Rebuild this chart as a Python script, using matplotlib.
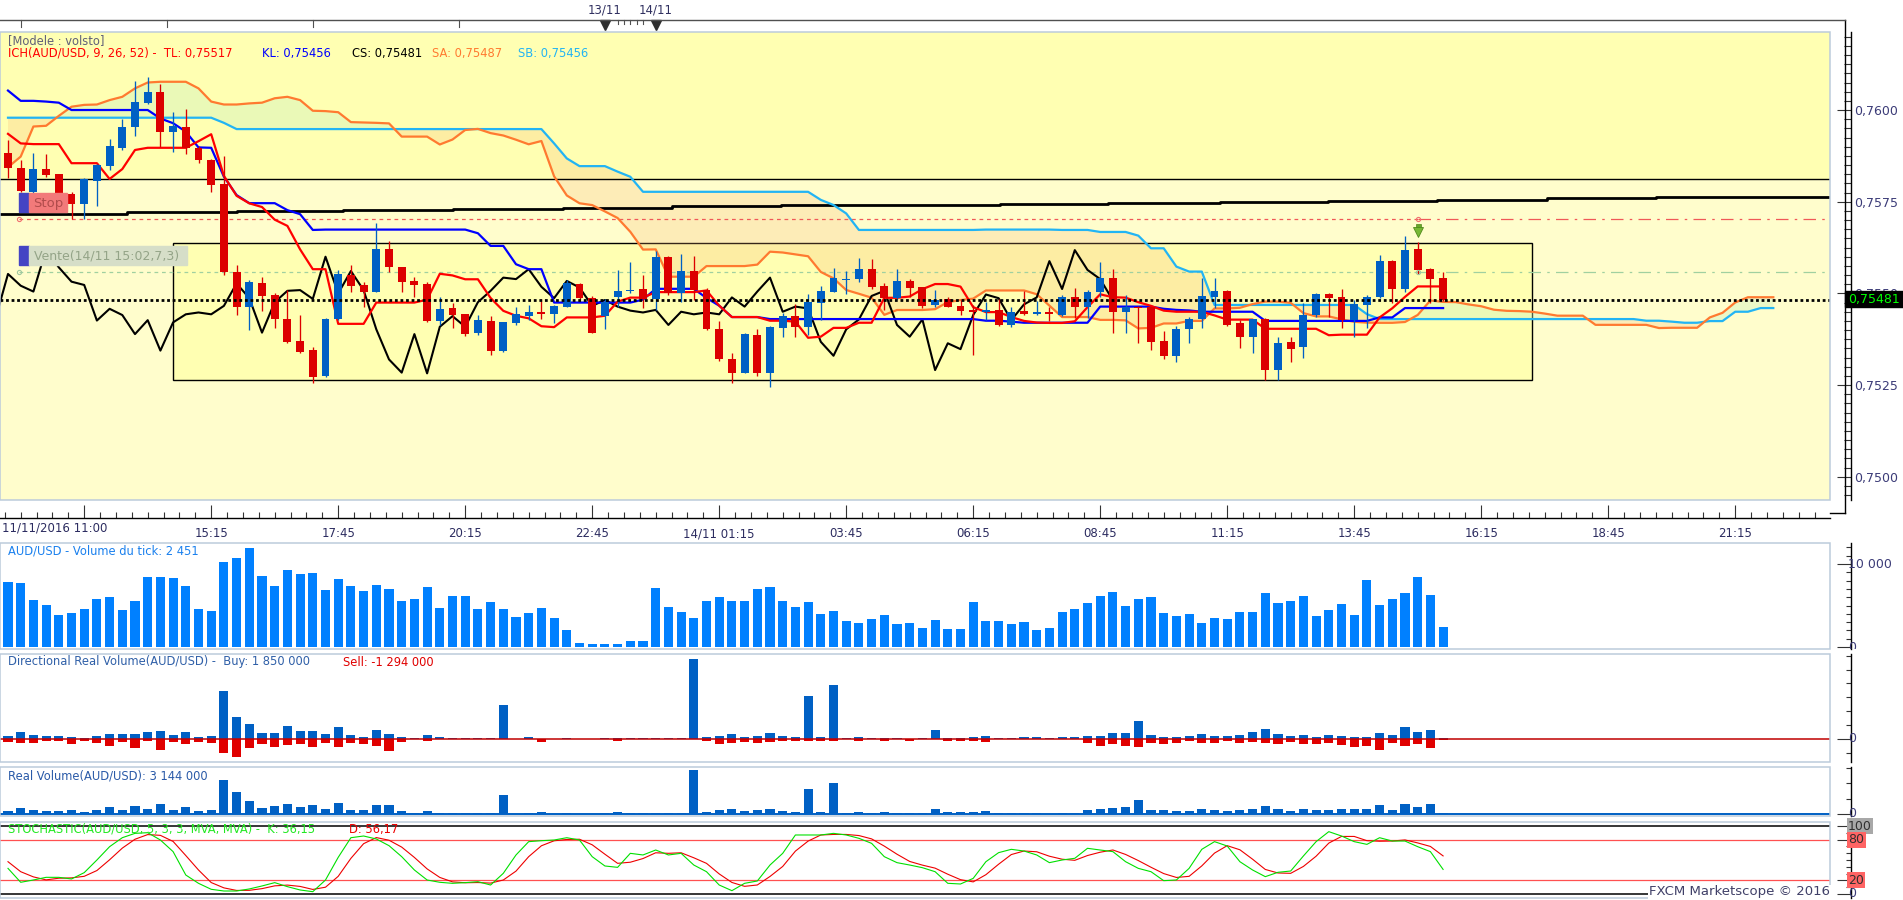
import numpy as np
import pandas as pd
import matplotlib
matplotlib.use("Agg")
import matplotlib.pyplot as plt
from matplotlib.patches import Rectangle
from matplotlib.lines import Line2D
from matplotlib.transforms import blended_transform_factory, Bbox
from matplotlib.ticker import FixedLocator, MultipleLocator

plt.rcParams['font.family'] = ['DejaVu Sans']

# ---------------- data (prices in 1e-5 units) ----------------
opens = [75882,75841,75777,75839,75825,75770,75743,75807,75847,75897,
         75953,76020,76048,75941,75953,75897,75864,75798,75557,75462,
         75527,75495,75429,75370,75346,75276,75429,75550,75523,75505,
         75620,75571,75534,75526,75426,75459,75443,75391,75425,75344,
         75418,75439,75448,75443,75464,75526,75487,75439,75491,75507,
         75512,75485,75600,75500,75561,75509,75403,75321,75284,75387,
         75284,75405,75438,75409,75475,75505,75537,75539,75566,75520,
         75487,75534,75517,75468,75484,75467,75455,75448,75455,75414,
         75452,75443,75448,75441,75489,75462,75503,75541,75450,75464,
         75462,75370,75330,75402,75429,75491,75507,75418,75382,75429,
         75291,75367,75353,75441,75497,75489,75427,75468,75489,75588,
         75512,75621,75566,75541]
highs = [75918,75864,75882,75879,75826,75776,75814,75853,75921,75975,
         76079,76091,76071,75995,76002,75902,75866,75875,75577,75537,
         75544,75500,75509,75441,75353,75432,75564,75577,75532,75693,
         75643,75573,75546,75532,75489,75473,75444,75441,75438,75423,
         75464,75468,75484,75468,75537,75529,75493,75484,75564,75586,
         75550,75616,75602,75607,75602,75514,75425,75337,75391,75402,
         75411,75446,75470,75497,75520,75568,75561,75596,75593,75527,
         75566,75539,75518,75509,75491,75482,75468,75477,75484,75464,
         75507,75480,75464,75496,75516,75509,75586,75566,75496,75466,
         75464,75397,75412,75437,75543,75543,75508,75427,75429,75432,
         75382,75382,75475,75500,75500,75511,75482,75496,75605,75591,
         75656,75641,75568,75559]
lows = [75814,75777,75773,75816,75768,75703,75703,75739,75836,75891,
        75930,76016,75898,75886,75879,75855,75777,75550,75441,75400,
        75453,75405,75366,75338,75257,75273,75427,75503,75464,75503,
        75559,75505,75491,75423,75414,75405,75384,75387,75332,75341,
        75414,75427,75429,75418,75462,75484,75391,75402,75464,75500,
        75461,75455,75496,75476,75482,75400,75317,75255,75282,75275,
        75244,75382,75380,75387,75427,75503,75497,75532,75511,75455,
        75485,75491,75459,75464,75462,75441,75332,75427,75412,75409,
        75441,75441,75426,75439,75432,75432,75491,75393,75391,75366,
        75346,75320,75314,75366,75405,75459,75412,75350,75338,75264,
        75264,75314,75325,75435,75436,75405,75382,75405,75487,75475,
        75503,75553,75473,75478]
closes = [75841,75780,75839,75823,75773,75743,75811,75850,75902,75953,
          76021,76048,75939,75956,75897,75864,75796,75557,75464,75532,
          75494,75429,75368,75341,75273,75429,75553,75521,75505,75620,
          75571,75532,75523,75426,75458,75441,75389,75427,75344,75421,
          75443,75448,75443,75466,75527,75487,75393,75476,75507,75509,
          75485,75600,75500,75561,75509,75402,75320,75284,75389,75282,
          75409,75438,75409,75476,75507,75543,75539,75566,75518,75487,
          75534,75516,75466,75482,75464,75453,75448,75455,75414,75450,
          75443,75448,75443,75489,75464,75505,75543,75450,75464,75459,
          75368,75330,75402,75429,75493,75507,75414,75382,75429,75291,
          75364,75348,75441,75497,75487,75427,75470,75489,75588,75512,
          75618,75564,75539,75481]

# Ichimoku values before enough history is on screen
tenkan_head = [75935,75909,75907,75907,75907,75855,75855,75855]
kijun_head = [76053,76025,76025,76023,76020,76000,76000,76000,76000,76000,
              76000,76000,75977,75964,75941,75898,75897,75818,75768,75746,
              75746,75746,75727,75716,75673]
senkou_a_head = [75844,75873,75955,75957,75984,76009,76014,76015,76027,76036,
                 76059,76075,76077,76077,76077,76059,76023,76015,76015,76018,
                 76020,76032,76036,76027,75998,75997]
senkou_b_head = [75979,75979,75979,75979,75979,75979,75979,75979,75979,75979,
                 75979,75979,75979,75979,75979,75979,75979,75965,75948,75948,
                 75948,75948,75948,75948,75948,75948,75948,75948,75948,75948,
                 75948,75948,75948,75948,75948,75948,75948,75948,75948,75948,
                 75948,75948,75948,75909,75868,75847,75847,75847,75832,75818,
                 75777,75777,75777,75777,75777,75777,75777,75777,75777,75777,
                 75777,75777,75777,75777,75755,75741,75718,75673,75673,75673,
                 75673,75673,75673,75673,75673,75673,75673]

# slow moving average (step line): bar position, value
ma_x = [-0.63,9.4,18.0,26.4,35.0,43.7,52.3,60.9,69.6,78.1,86.6,95.4,103.9,112.5,121.2,129.8,138.3,143.5]
ma_v = [75716,75721,75725,75728,75731,75734,75737,75740,75742,75744,75747,75750,75753,75756,75759,75762,75764,75764]

upper_zone = 0.75812
box_bars = (13, 120)
box_prices = (0.75264, 0.75637)
stop_level = 0.75702
entry_level = 0.75557
order_bar = 111
last_price = 0.75481

tick_volume = [7830,7710,5660,5060,3855,4096,4578,5783,6024,4458,
               5542,8434,8434,8313,7349,4578,4337,10241,10723,11928,
               8554,7349,9277,8795,8916,6867,8193,7349,6747,7470,
               6988,5542,5783,7229,4699,6144,6144,4578,5422,4578,
               3614,4096,4699,3494,2048,482,361,361,361,723,
               723,7108,4819,4217,3494,5542,6024,5542,5542,6988,
               7229,5542,4819,5422,3976,4337,3132,2892,3373,3855,
               2771,2892,2289,3253,2169,2169,5422,3132,3132,2771,
               3012,2048,2289,4217,4578,5301,6144,6626,4940,5783,
               6024,4096,3735,3976,2892,3494,3373,4217,4217,6506,
               5301,5542,6144,3735,4458,5181,3855,8072,5060,5783,
               6506,8434,6265,2451]
# directional real volume, millions
buy_volume = [5.4,12.6,7.2,5.4,5.4,3.6,1.8,5.4,9.0,9.0,
              9.0,12.6,14.4,7.2,12.6,3.6,5.4,86.4,39.6,27.0,
              10.8,10.8,23.4,14.4,14.4,9.0,21.6,7.2,3.6,16.2,
              9.0,3.6,1.8,7.2,3.6,1.8,1.8,1.8,1.8,61.2,
              0,3.6,0,0,1.8,0,0,1.8,1.8,1.8,
              1.8,1.8,1.8,1.8,144.0,3.6,5.4,9.0,3.6,5.4,
              10.8,5.4,3.6,77.4,3.6,97.2,1.8,3.6,1.8,1.8,
              1.8,0,1.8,16.2,1.8,1.8,3.6,5.4,1.8,1.8,
              3.6,3.6,1.2,3.6,3.6,5.4,5.4,10.8,10.8,32.4,
              7.2,3.6,3.6,5.4,9.0,5.4,5.4,7.2,12.6,18.0,
              9.0,5.4,7.2,3.6,7.2,5.4,3.6,3.6,10.8,7.2,
              21.6,12.6,16.2,1.85]
sell_volume = [-4.8,-6.6,-6.6,-3.6,-3.6,-8.4,-3.0,-6.6,-12.0,-4.8,
               -15.6,-3.0,-19.2,-4.8,-8.4,-4.8,-6.6,-24.6,-31.8,-15.6,
               -8.4,-13.8,-10.2,-8.4,-13.8,-6.6,-13.8,-6.6,-8.4,-12.0,
               -21.0,-4.8,-0.6,-3.0,-0.6,0,0,0,0,0,
               0,0,-4.8,0,0,0,0,0,-3.0,0,
               0,0,0,0,0,-3.0,-8.4,-6.6,-4.8,-6.6,
               -4.8,-3.0,-3.0,-3.0,-3.0,-3.0,0,-3.0,0,-3.0,
               0,-3.0,0,0,-3.0,-3.0,-3.0,-4.8,0,0,
               0,0,0,0,0,-6.6,-12.0,-8.4,-12.0,-13.8,
               -6.6,-8.4,-6.6,-3.0,-6.6,-6.6,-3.0,-6.6,-4.8,-6.6,
               -8.4,-4.8,-8.4,-8.4,-6.6,-10.2,-13.8,-12.0,-19.2,-6.6,
               -12.0,-8.4,-15.6,-1.294]
stoch_k = [37.7,17.2,20.6,24.5,24.5,22.1,31.4,50.0,69.6,82.8,
           89.2,90.2,79.4,62.3,27.9,15.7,6.9,4.4,4.4,7.4,
           11.8,16.7,10.8,5.9,3.4,20.6,53.9,82.8,85.3,80.9,
           71.1,54.9,35.3,20.6,17.2,15.7,16.7,18.1,13.2,30.4,
           57.4,77.0,78.4,79.4,82.8,79.4,54.9,41.2,39.2,59.8,
           57.4,64.7,57.4,59.8,42.6,32.8,13.2,4.9,15.7,19.1,
           42.6,59.8,86.8,86.8,86.8,89.2,86.8,81.9,74.5,54.9,
           46.1,42.6,38.7,32.8,15.7,14.7,23.0,47.5,60.8,65.7,
           63.2,57.4,46.1,50.0,52.5,67.2,64.7,62.3,47.5,37.7,
           32.8,19.6,20.6,37.7,65.7,77.0,70.6,47.5,35.3,25.5,
           31.9,33.8,55.9,77.0,91.7,85.3,77.0,73.0,82.8,77.9,
           77.9,69.6,62.3,36.15]
stoch_d_head = [47.5, 32.8]

tick_bars = [6,16,26,36,46,56,66,76,86,96,106,116,126,136]
tick_texts = ['','15:15','17:45','20:15','22:45','14/11 01:15','03:45','06:15',
              '08:45','11:15','13:45','16:15','18:45','21:15']
first_label = '11/11/2016 11:00'
day_marks = [(47, '13/11'), (51, '14/11')]
price_ticks = [0.7500, 0.7525, 0.7550, 0.7575, 0.7600]

# ---------------- derived series ----------------
O = np.array(opens) / 1e5; Hh = np.array(highs) / 1e5
L = np.array(lows) / 1e5; C = np.array(closes) / 1e5
n = len(C); idx = np.arange(n)
hs = pd.Series(Hh); ls = pd.Series(L)
tenkan = ((hs.rolling(9).max() + ls.rolling(9).min()) / 2).to_numpy()
tenkan[:8] = np.array(tenkan_head) / 1e5
kijun = ((hs.rolling(26).max() + ls.rolling(26).min()) / 2).to_numpy()
kijun[:25] = np.array(kijun_head) / 1e5
sa = np.concatenate([np.array(senkou_a_head) / 1e5, (tenkan + kijun) / 2])
sb_raw = ((hs.rolling(52).max() + ls.rolling(52).min()) / 2).to_numpy()
sb = np.concatenate([np.array(senkou_b_head) / 1e5, sb_raw[51:]])
xc = np.arange(len(sa))
kser = pd.Series(stoch_k)
stoch_d = kser.rolling(3).mean().to_numpy()
stoch_d[:2] = stoch_d_head
buy = np.array(buy_volume); sell = np.array(sell_volume)
real_volume = buy - sell

# ---------------- figure ----------------
W, H = 1903, 900
fig = plt.figure(figsize=(W / 100, H / 100), dpi=100)
fig.patch.set_facecolor('white')

def rect(x0, y0, x1, y1):
    return [x0 / W, 1 - y1 / H, (x1 - x0) / W, (y1 - y0) / H]

def fline(xs, ys, **kw):
    fig.add_artist(Line2D([x / W for x in xs], [1 - y / H for y in ys], **kw))

def fbox(x0, y0, x1, y1, **kw):
    fig.add_artist(Rectangle((x0 / W, 1 - y1 / H), (x1 - x0) / W, (y1 - y0) / H,
                             transform=fig.transFigure, **kw))

BULL = '#0060c4'; BEAR = '#dc0000'
LABC = '#3c3c78'
XL = (-8 / 12.7, 1822 / 12.7)
BORDER = '#bccbdb'

ax = fig.add_axes(rect(0, 32, 1830, 500))
ax.set_xlim(*XL)
ax.set_ylim(0.749367, 0.762127)
ax.set_facecolor('#fffdcc')
ax.axhspan(upper_zone, 0.77, color='#ffffb2', lw=0, zorder=0)
ax.axhline(upper_zone, color='black', lw=1.0, zorder=3)
ax.add_patch(Rectangle((box_bars[0], box_prices[0]), box_bars[1] - box_bars[0],
                       box_prices[1] - box_prices[0], fc='#ffffb2', ec='black', lw=1.0, zorder=0.5))

# cloud
ax.fill_between(xc, sa, sb, where=sa >= sb, interpolate=True, color='#c8f0c0', alpha=0.38, lw=0, zorder=1)
ax.fill_between(xc, sa, sb, where=sa < sb, interpolate=True, color='#f9b070', alpha=0.22, lw=0, zorder=1)

ax.step(ma_x, np.array(ma_v) / 1e5, where='post', color='black', lw=2.0, zorder=3)

# stop / entry lines
start_bar = 0.87
ax.plot([start_bar, order_bar], [stop_level] * 2, color='#f05858', lw=0.9, ls=(0, (3, 3)), zorder=3)
ax.plot([order_bar, XL[1]], [stop_level] * 2, color='#f05858', lw=0.9, ls=(0, (10, 5, 2, 5)), zorder=3)
ax.plot([start_bar, order_bar], [entry_level] * 2, color='#a0d0a0', lw=0.9, ls=(0, (3, 3)), zorder=3)
ax.plot([order_bar, XL[1]], [entry_level] * 2, color='#a0d0a0', lw=0.9, ls=(0, (10, 5, 2, 5)), zorder=3)
for xb in (start_bar, order_bar):
    ax.plot([xb], [stop_level], marker='o', ms=3, mfc='none', mec='#f07070', mew=0.8, zorder=6)
    ax.plot([xb], [entry_level], marker='o', ms=3, mfc='none', mec='#a0c8a0', mew=0.8, zorder=6)

# ichimoku lines
ax.plot(xc, sb, color='#22b4f4', lw=1.6, zorder=4)
ax.plot(xc, sa, color='#ff7a30', lw=1.6, zorder=4)
ax.plot(idx[25:] - 26, C[25:], color='black', lw=1.5, zorder=4)
ax.plot(idx, kijun, color='#0000ff', lw=1.6, zorder=4)
ax.plot(idx, tenkan, color='#ff0000', lw=1.6, zorder=4)

# candles
colors = np.where(C >= O, BULL, BEAR)
ax.vlines(idx, L, Hh, colors=colors, lw=0.95, zorder=5)
body_lo = np.minimum(O, C)
body_h = np.maximum(np.abs(C - O), 0.000025)
ax.bar(idx, body_h, bottom=body_lo, width=0.62, color=colors, lw=0, zorder=5)

ax.axhline(last_price, color='black', lw=2.0, ls=(0, (1.0, 1.0)), zorder=7)

# order arrow
ax.plot([order_bar], [Hh[order_bar] + 0.00043], marker='s', ms=3.6, color='#6aa82a', mec='#4f8a1c', mew=0.5, zorder=8)
ax.plot([order_bar], [Hh[order_bar] + 0.00026], marker='v', ms=6.8, color='#78b834', mec='#4f8a1c', mew=0.6, zorder=8)

# axes decoration
for s in ('left', 'top'):
    ax.spines[s].set_visible(False)
ax.spines['right'].set_position(('outward', 15))
ax.spines['bottom'].set_position(('outward', 13))
ax.spines['right'].set_linewidth(1.0)
ax.spines['bottom'].set_linewidth(1.0)
ax.add_patch(Rectangle((0, 0), 1, 1, transform=ax.transAxes, fill=False, ec=BORDER, lw=1.1, clip_on=False, zorder=10))
ax.yaxis.tick_right()
ax.yaxis.set_major_locator(FixedLocator(price_ticks))
ax.yaxis.set_minor_locator(MultipleLocator(0.00025))
ax.set_yticklabels([('%.4f' % v).replace('.', ',') for v in price_ticks])
ax.tick_params(axis='y', which='major', direction='in', length=10, width=0.8, color='#333333',
               labelcolor=LABC, labelsize=9, pad=2.2)
ax.tick_params(axis='y', which='minor', direction='in', length=5, width=0.8, color='#333333')
ax.xaxis.set_major_locator(FixedLocator(tick_bars))
minor_x = [v for v in np.arange(-0.25, 144, 1.25) if min(abs(v - t) for t in tick_bars) > 0.1]
ax.xaxis.set_minor_locator(FixedLocator(minor_x))
ax.set_xticklabels(tick_texts)
ax.tick_params(axis='x', which='major', direction='in', length=9.4, width=0.8, color='#333333',
               labelcolor='#2c2c60', labelsize=8.5, pad=6.5)
ax.tick_params(axis='x', which='minor', direction='in', length=4.3, width=0.8, color='#333333')
fig.text(2 / W, 1 - 528 / H, first_label, fontsize=8.5, color='#2c2c60', ha='left', va='center')

# the price label hidden behind the current-price box: only its top sliver shows
for lab in ax.get_yticklabels():
    if lab.get_text() == '0,7550':
        lab.set_clip_box(Bbox.from_extents(1830, H - 291, W, H - 250))
        lab.set_clip_on(True)

# axis line extensions and top strip
fline([1845, 1845], [20, 513], color='black', lw=1.0)
fline([1830, 1845], [513, 513], color='black', lw=1.0)
fline([0, 1845], [20, 20], color='#505050', lw=1.0)
blend = blended_transform_factory(ax.transData, ax.transAxes)
def ay(ypx):
    return (500 - ypx) / 468.0
for t in [1, 12.5, 24, 35.5]:
    ax.plot([t, t], [ay(20), ay(27)], transform=blend, clip_on=False, color='#505050', lw=0.8)
for t in [48, 48.5, 49, 49.5, 50]:
    ax.plot([t, t], [ay(20), ay(24)], transform=blend, clip_on=False, color='#505050', lw=0.8)
for b, lab in day_marks:
    ax.plot([b], [ay(25)], transform=blend, clip_on=False, marker='v', ms=6.5, color='#303030', zorder=10)
    ax.text(b, ay(10), lab, transform=blend, ha='center', va='center', fontsize=8.5, color='#303060')

# labels on main chart
fbox(19, 193, 29, 212, color='#4444c4', zorder=5)
fbox(29, 193, 67, 212, color='#f27a7a', zorder=5)
fig.text(48 / W, 1 - 203 / H, 'Stop', fontsize=9.5, color='#b04c4c', ha='center', va='center', zorder=6)
fbox(19, 246, 29, 265, color='#4444c4', zorder=5)
fbox(29, 246, 187, 265, color='#d6dec8', zorder=5)
fig.text(34 / W, 1 - 256 / H, 'Vente(14/11 15:02,7,3)', fontsize=9, color='#94a488', ha='left', va='center', zorder=6)

# current price box
fbox(1845, 291, 1903, 307, color='black', zorder=5)
fig.text(1848 / W, 1 - 299 / H, '0,75481', fontsize=9, color='#00ff00', ha='left', va='center', zorder=6)

renderer = fig.canvas.get_renderer()
def seg_text(parts, ypx, size):
    prev = None
    for xpx, s, col in parts:
        if prev is not None:
            xpx = max(xpx, prev + 5)
        t = fig.text(xpx / W, 1 - ypx / H, s, color=col, fontsize=size, ha='left', va='center', zorder=6)
        prev = t.get_window_extent(renderer).x1

seg_text([(8, '[Modele : volsto]', '#606078')], 41, 8.3)
seg_text([(8, 'ICH(AUD/USD, 9, 26, 52) -  TL: 0,75517', '#ff0000'),
          (262, 'KL: 0,75456', '#0000ff'),
          (352, 'CS: 0,75481', '#000000'),
          (432, 'SA: 0,75487', '#ff7a30'),
          (518, 'SB: 0,75456', '#22b4f4')], 53.5, 8.3)

# ---------------- lower panels ----------------
def panel(top, bottom, ylim):
    a = fig.add_axes(rect(0, top, 1830, bottom))
    a.set_xlim(*XL)
    a.set_ylim(*ylim)
    a.set_facecolor('white')
    for s in ('left', 'top', 'bottom'):
        a.spines[s].set_visible(False)
    a.spines['right'].set_position(('outward', 15))
    a.spines['right'].set_linewidth(1.0)
    a.add_patch(Rectangle((0, 0), 1, 1, transform=a.transAxes, fill=False, ec=BORDER, lw=1.1,
                          clip_on=False, zorder=10))
    a.yaxis.tick_right()
    a.set_xticks([])
    a.tick_params(axis='y', which='both', direction='in', width=0.8, color='#333333', labelright=False)
    a.tick_params(axis='y', which='major', length=10)
    a.tick_params(axis='y', which='minor', length=3.6)
    return a

def rlabel(a, v, s, top, bottom, fc=None):
    ypx = H - a.transData.transform((0, v))[1]
    kw = {}
    if fc is not None:
        kw['bbox'] = dict(boxstyle='square,pad=0.12', fc=fc, ec='none')
    t = fig.text(1848 / W, 1 - ypx / H, s, fontsize=9, color=LABC if fc is None else '#303030',
                 ha='left', va='center', **kw)
    t.set_clip_box(Bbox.from_extents(1830, H - bottom, W, H - top))
    t.set_clip_on(True)

# tick volume
axv = panel(543, 649, (-240, 12530))
axv.bar(idx, tick_volume, width=0.71, color='#0080ff', lw=0)
axv.yaxis.set_major_locator(FixedLocator([0, 10000]))
axv.yaxis.set_minor_locator(MultipleLocator(1000))
rlabel(axv, 10000, '10 000', 543, 649)
rlabel(axv, 0, '0', 543, 649)
seg_text([(8, 'AUD/USD - Volume du tick: 2 451', '#1a80ee')], 551, 8.3)

# directional real volume
axd = panel(654, 762, (-41.4, 153))
axd.bar(idx, buy, width=0.71, color=BULL, lw=0)
axd.bar(idx, sell, width=0.71, color='#e00000', lw=0)
axd.axhline(0, color='#c00000', lw=1.1)
axd.yaxis.set_major_locator(FixedLocator([0]))
axd.yaxis.set_minor_locator(MultipleLocator(25))
rlabel(axd, 0, '0', 654, 762)
seg_text([(8, 'Directional Real Volume(AUD/USD) -  Buy: 1 850 000', '#3060a8'),
          (343, 'Sell: -1 294 000', '#e00000')], 662, 8.3)

# real volume
axr = panel(767, 816, (-7, 154))
axr.bar(idx, real_volume, width=0.71, color=BULL, lw=0)
axr.axhline(0, color=BULL, lw=1.4)
axr.yaxis.set_major_locator(FixedLocator([0]))
axr.yaxis.set_minor_locator(MultipleLocator(50))
rlabel(axr, 0, '0', 767, 817)
seg_text([(8, 'Real Volume(AUD/USD): 3 144 000', '#2a5aa8')], 776, 8.3)

# stochastic
axs = panel(822, 898, (-5.9, 105.9))
axs.axhline(100, color='black', lw=1.1)
axs.axhline(0, color='black', lw=1.1)
axs.axhline(80, color='#ff5050', lw=0.9)
axs.axhline(20, color='#ff5050', lw=0.9)
axs.plot(idx, stoch_d, color='#ee0000', lw=0.8)
axs.plot(idx, stoch_k, color='#00e000', lw=0.8)
axs.yaxis.set_major_locator(FixedLocator([0, 20, 80, 100]))
axs.yaxis.set_minor_locator(MultipleLocator(10))
rlabel(axs, 100, '100', 818, 900, fc='#a8a8a8')
rlabel(axs, 80, '80', 818, 900, fc='#ff6464')
rlabel(axs, 20, '20', 818, 900, fc='#ff6464')
rlabel(axs, 0, '0', 818, 900)
seg_text([(8, 'STOCHASTIC(AUD/USD, 5, 3, 3, MVA, MVA) -  K: 36,15', '#22e822'),
          (349, 'D: 56,17', '#ee0000')], 829.5, 8.3)
fig.text(1830 / W, 1 - 892 / H, 'FXCM Marketscope \u00a9 2016', fontsize=9.5, color='#404068',
         ha='right', va='center', bbox=dict(boxstyle='square,pad=0.05', fc='white', ec='none'), zorder=6)

fig.savefig('out.png', dpi=100, facecolor='white')
